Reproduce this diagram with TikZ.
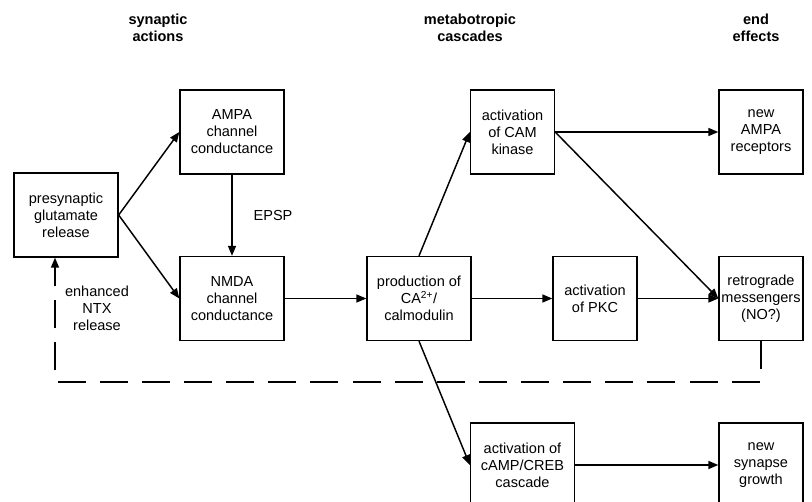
\documentclass[tikz,border=0pt]{standalone}
\usepackage{fontspec}
\setmainfont{Liberation Sans}
\usetikzlibrary{arrows.meta}

\begin{document}
\begin{tikzpicture}[x=0.75pt,y=-0.75pt]
					\tikzstyle{box}=[draw=black,line width=1pt,align=center,inner sep=0pt,font=\fontsize{10.9}{12.8}\selectfont]
					\tikzstyle{widebox}=[box,minimum width=78pt,minimum height=63pt]
					\tikzstyle{smallbox}=[box,minimum width=63pt,minimum height=63pt]
					\tikzstyle{head}=[align=center,font=\fontsize{10.9}{12.8}\selectfont\bfseries]
					\tikzstyle{plain}=[align=center,font=\fontsize{10.9}{12.8}\selectfont]
					\tikzstyle{link}=[line width=1.1pt,-{Triangle[length=7.5pt,width=6pt]}]
					\tikzstyle{feedback}=[link,dash pattern=on 21pt off 10.6pt]
					\clip (0,0) rectangle (812,502);
					\useasboundingbox (0,0) rectangle (812,502);
					\node[head] (h1) at (158,28) {synaptic\\actions};
					\node[head] (h2) at (470,28) {metabotropic\\cascades};
					\node[head] (h3) at (756,28) {end\\effects};
					\node[widebox] (presyn) at (66,215) {presynaptic\\glutamate\\release};
					\node[widebox] (ampa) at (232,132) {AMPA\\channel\\conductance};
					\node[widebox] (nmda) at (232,298.5) {NMDA\\channel\\conductance};
					\node[widebox] (prod) at (419,298.5) {production of\\CA\textsuperscript{2+}/\\calmodulin};
					\node[smallbox] (cam) at (512.5,132) {activation\\of CAM\\kinase};
					\node[smallbox] (pkc) at (595,298.5) {activation\\of PKC};
					\node[widebox] (camp) at (522.5,465) {activation of\\cAMP/CREB\\cascade};
					\node[smallbox] (newampa) at (761,132) {new\\AMPA\\receptors};
					\node[smallbox] (retro) at (761,298.5) {retrograde\\messengers\\(NO?)};
					\node[smallbox] (growth) at (761,465) {new\\synapse\\growth};
					\node[plain] (epsp) at (273,215) {EPSP};
					\node[plain] (ntx) at (97,308) {enhanced\\NTX\\release};
					\coordinate (fbR) at (761,382);
					\coordinate (fbL) at (55,382);
					\draw[link] (presyn.east) -- (ampa.west);
					\draw[link] (presyn.east) -- (nmda.west);
					\draw[link] (ampa) -- (nmda);
					\draw[link] (nmda) -- (prod);
					\draw[link] (prod.north) -- (cam.west);
					\draw[link] (prod) -- (pkc);
					\draw[link] (prod.south) -- (camp.west);
					\draw[link] (cam) -- (newampa);
					\draw[link] (cam.east) -- (retro.west);
					\draw[link] (pkc) -- (retro);
					\draw[link] (camp) -- (growth);
					\draw[feedback] (retro.south) -- (fbR) -- (fbL) -- (fbL |- presyn.south);
					\end{tikzpicture}
\end{document}
